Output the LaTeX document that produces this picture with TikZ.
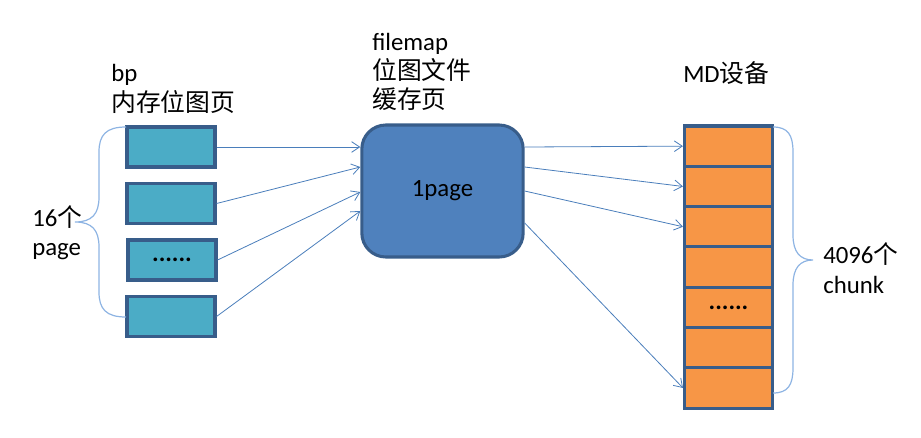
\documentclass[tikz,border=0pt]{standalone}
\usepackage{fontspec}
\setmainfont{Carlito}
\newfontfamily\cjk{Noto Sans CJK SC}
\usepackage{tikz}
\usetikzlibrary{arrows.meta, positioning, calc}
\definecolor{pagecolor}{RGB}{75,172,198}
\definecolor{filecolor}{RGB}{79,129,189}
\definecolor{chunkcolor}{RGB}{247,150,70}
\definecolor{bordercolor}{RGB}{56,93,138}
\definecolor{linkcolor}{RGB}{74,126,187}
\definecolor{bracecolor}{RGB}{142,180,227}

\begin{document}
\begin{tikzpicture}[
    x=0.75pt, y=-0.75pt,
    every node/.style={font=\fontsize{18.6}{22}\selectfont},
    bppage/.style={draw=bordercolor, fill=pagecolor, line width=2.3pt, minimum width=66pt, minimum height=30pt, inner sep=0pt},
    filepage/.style={draw=bordercolor, fill=filecolor, line width=2.3pt, minimum width=121pt, minimum height=99pt, rounded corners=18pt, inner sep=0pt},
    chunk/.style={draw=bordercolor, fill=chunkcolor, line width=2.3pt, minimum width=66pt, minimum height=30.2pt, inner sep=0pt},
    label/.style={anchor=west, align=left, inner sep=0pt},
    link/.style={draw=linkcolor, line width=0.6pt, -{Straight Barb[length=6pt, width=8pt]}},
    curly/.style={draw=bracecolor, line width=0.9pt}
]
    \useasboundingbox (0,0) rectangle (921,437);

    % Memory bitmap pages
    \node[bppage] (bp1) at (171,147) {};
    \node[bppage] (bp2) at (171,203.5) {};
    \node[bppage] (bp3) at (172,260) {\textbf{......}};
    \node[bppage] (bp4) at (171,316.5) {};
    \node[label] (bplabel) at (111,89) {bp\\\cjk 内存位图页};

    % File bitmap page
    \node[filepage] (fm) at (442.5,191) {1page};
    \node[label] (fmlabel) at (372,72) {filemap\\\cjk 位图文件\\\cjk 缓存页};

    % MD device chunks
    \foreach \i in {1,...,7}
        \node[chunk] (c\i) at (728.5,{126+40.3*(\i-0.5)}) {};
    \node at (c5) {\textbf{......}};
    \node[label] (mdlabel) at (683,73) {MD{\cjk 设备}};

    % Braces
    \draw[curly] (126,127) .. controls (106,127) and (99,135) .. (99,152)
        -- (99,197) .. controls (99,214) and (92,222) .. (75,222)
        .. controls (92,222) and (99,230) .. (99,247)
        -- (99,292) .. controls (99,309) and (106,317) .. (126,317);
    \node[label] (bpcount) at (32,233) {16{\cjk 个}\\page};

    \draw[curly] (773,127) .. controls (788,127) and (793,135) .. (793,152)
        -- (793,235) .. controls (793,252) and (800,260) .. (813,260)
        .. controls (800,260) and (793,268) .. (793,285)
        -- (793,368) .. controls (793,385) and (788,393) .. (773,393);
    \node[label] (chunkcount) at (823,268) {4096{\cjk 个}\\chunk};

    % Links
    \draw[link] (bp1.east) -- ($(fm.west)+(0,-44)$);
    \draw[link] (bp2.east) -- ($(fm.west)+(0,-24)$);
    \draw[link] (bp3.east) -- ($(fm.west)+(0,1)$);
    \draw[link] (bp4.east) -- ($(fm.west)+(0,20)$);

    \draw[link] ($(fm.east)+(0,-44)$) -- (c1.west);
    \draw[link] ($(fm.east)+(0,-24)$) -- (c2.west);
    \draw[link] ($(fm.east)+(0,0)$) -- (c3.west);
    \draw[link] ($(fm.east)+(0,32)$) -- (c7.west);
\end{tikzpicture}
\end{document}
